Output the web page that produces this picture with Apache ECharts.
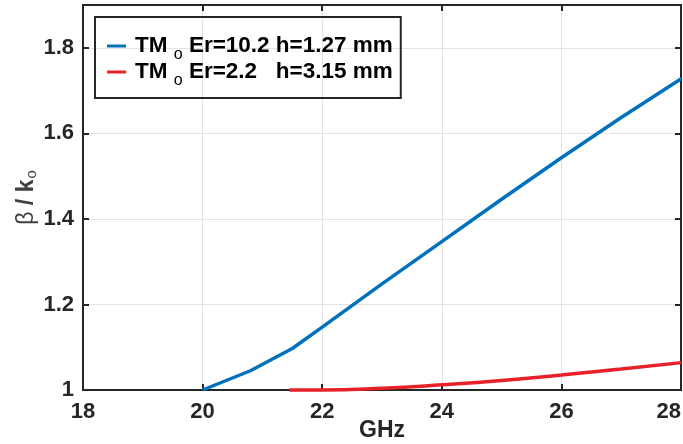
<html lang="en">
<head>
  <meta charset="utf-8"/>
  <script src="https://cdn.jsdelivr.net/npm/echarts@6/dist/echarts.min.js"></script>
  <style>
    html, body { margin: 0; padding: 0; background: #fff; }
    #chart { width: 683px; height: 444px; }
  </style>
</head>
<body>
<div id="chart"></div>
<script>
  // Er=10.2, h=1.27 mm
  var freqA = [20, 20.8, 21.5, 22, 23, 24, 25, 26, 27, 28.01];
  var betaA = [1.0, 1.045, 1.097, 1.147, 1.248, 1.347, 1.446, 1.543, 1.637, 1.728];
  // Er=2.2, h=3.15 mm
  var freqB = [21.45, 22, 23, 24, 25, 26, 27, 28.01];
  var betaB = [1.0, 1.0, 1.004, 1.012, 1.022, 1.035, 1.049, 1.064];
  var nameA = 'TM_o Er=10.2 h=1.27 mm';
  var nameB = 'TM_o Er=2.2   h=3.15 mm';
  var xTicks = [18, 20, 22, 24, 26, 28];
  var yTicks = [1, 1.2, 1.4, 1.6, 1.8];

  function pairs(xs, ys) {
      return xs.map(function (x, i) { return [x, ys[i]]; });
  }

  var font = 'Liberation Sans, Arial, sans-serif';
  var dark = '#262626';

  var chart = echarts.init(document.getElementById('chart'), null, {renderer: 'canvas'});
  var option = {
      backgroundColor: '#ffffff',
      animation: false,
      grid: {
          left: 83, right: 2, top: 5, bottom: 54,
          outerBoundsMode: 'none', containLabel: false,
          show: true, borderColor: dark, borderWidth: 2
      },
      legend: {
          left: 95, top: 17,
          orient: 'vertical',
          borderColor: dark, borderWidth: 2,
          padding: [12, 8, 9, 12],
          itemGap: -8,
          icon: 'rect',
          itemWidth: 19, itemHeight: 3,
          data: [nameA, nameB],
          formatter: function (n) {
              var parts = n.split('_o');
              return '{t|' + parts[0] + ' }{s|o}{a|' + parts[1] + '}';
          },
          textStyle: {
              rich: {
                  t: {fontFamily: font, fontWeight: 'bold', fontSize: 22.5, color: '#000', lineHeight: 24, padding: [0, 0, 0, 4]},
                  a: {fontFamily: font, fontWeight: 'bold', fontSize: 22.5, color: '#000', lineHeight: 24},
                  s: {fontFamily: font, fontSize: 16, color: '#000', padding: [18, 0, 0, 0], lineHeight: 6}
              }
          }
      },
      xAxis: [{
          type: 'value', min: 18, max: 28, interval: 2,
          name: 'GHz', nameLocation: 'middle', nameGap: 29, nameMoveOverlap: false,
          nameTextStyle: {fontFamily: font, fontWeight: 'bold', fontSize: 23, color: dark},
          axisLine: {show: true, lineStyle: {color: dark, width: 2}},
          axisTick: {show: true, inside: true, length: 6, lineStyle: {color: dark, width: 2}},
          axisLabel: {fontFamily: font, fontWeight: 'bold', fontSize: 22, color: dark, margin: 11,
                      alignMaxLabel: 'right',
                      formatter: function (v) { return xTicks.indexOf(v) >= 0 ? String(v) : ''; }},
          splitLine: {show: true, lineStyle: {color: '#e3e3e3', width: 1}}
      }, {
          type: 'value', position: 'top', min: 18, max: 28, interval: 2,
          axisLine: {show: true, lineStyle: {color: dark, width: 2}},
          axisTick: {show: true, inside: true, length: 6, lineStyle: {color: dark, width: 2}},
          axisLabel: {show: false}, splitLine: {show: false}
      }],
      yAxis: [{
          type: 'value', min: 1, max: 1.9, interval: 0.2,
          name: '{b|β}{k| / k}{o|o}', nameLocation: 'middle', nameGap: 44, nameRotate: 90,
          nameMoveOverlap: false,
          nameTextStyle: {
              rich: {
                  b: {fontFamily: font, fontSize: 23, color: '#404040'},
                  k: {fontFamily: font, fontWeight: 'bold', fontSize: 23, color: '#404040'},
                  o: {fontFamily: font, fontSize: 15, color: '#404040', padding: [10, 0, 0, 1]}
              }
          },
          axisLine: {show: true, lineStyle: {color: dark, width: 2}},
          axisTick: {show: true, inside: true, length: 6, lineStyle: {color: dark, width: 2}},
          axisLabel: {fontFamily: font, fontWeight: 'bold', fontSize: 22, color: dark, margin: 9,
                      formatter: function (v) {
                          for (var i = 0; i < yTicks.length; i++) {
                              if (Math.abs(yTicks[i] - v) < 1e-6) return String(yTicks[i]);
                          }
                          return '';
                      }},
          splitLine: {show: true, lineStyle: {color: '#e3e3e3', width: 1}}
      }, {
          type: 'value', position: 'right', min: 1, max: 1.9, interval: 0.2,
          axisLine: {show: true, lineStyle: {color: dark, width: 2}},
          axisTick: {show: true, inside: true, length: 6, lineStyle: {color: dark, width: 2}},
          axisLabel: {show: false}, splitLine: {show: false}
      }],
      series: [{
          name: nameA, type: 'line', data: pairs(freqA, betaA),
          symbol: 'none', smooth: false, clip: true,
          lineStyle: {color: '#0072BD', width: 3.5},
          itemStyle: {color: '#0072BD'}
      }, {
          name: nameB, type: 'line', data: pairs(freqB, betaB),
          symbol: 'none', smooth: true, clip: false,
          lineStyle: {color: '#E8202A', width: 3.5},
          itemStyle: {color: '#E8202A'}
      }]
  };
  chart.setOption(option);
</script>
</body>
</html>
